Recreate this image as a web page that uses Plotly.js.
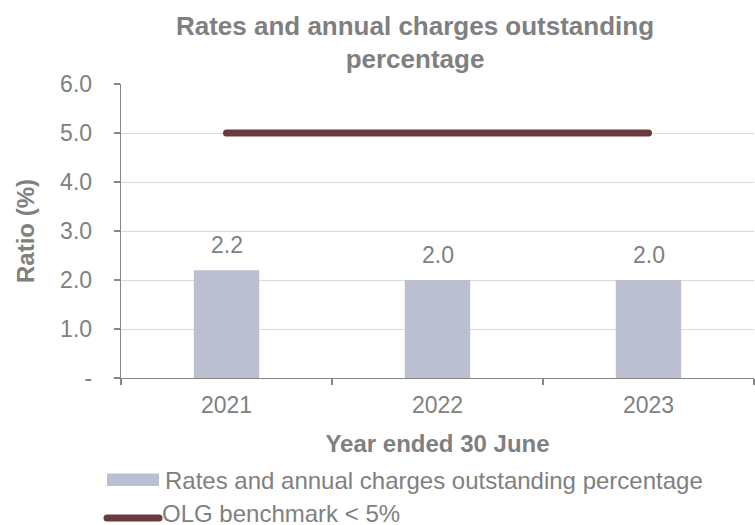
<!DOCTYPE html>
<html>
<head>
<meta charset="utf-8">
<script src="https://cdn.plot.ly/plotly-3.0.1.min.js"></script>
<style>html,body{margin:0;padding:0;background:#fff;}#chart{width:755px;height:525px;}</style>
</head>
<body>
<div id="chart"></div>
<script>
const years = ["2021", "2022", "2023"];
const outstanding = [2.2, 2.0, 2.0];
const benchmark = [5, 5, 5];
const seriesNames = ["Rates and annual charges outstanding percentage", "OLG benchmark < 5%"];
const yTickVals = [0, 1, 2, 3, 4, 5, 6];
const yTickText = ["-", "1.0", "2.0", "3.0", "4.0", "5.0", "6.0"];

const gray = "#808080";
const barColor = "#BBBFCF";
const lineColor = "#6A3B3E";
const axisColor = "#868686";
const font = "Liberation Sans, Arial, sans-serif";

const W = 755, H = 525, L = 121, R = 1, T = 84, B = 147;
const pw = W - L - R, ph = H - T - B;
const px = x => (x - L) / pw;
const py = y => (H - B - y) / ph;

const traces = [
  {type: "bar", x: years, y: outstanding, name: seriesNames[0],
   marker: {color: barColor}, hoverinfo: "x+y", showlegend: false},
  {type: "scatter", mode: "lines", x: years, y: benchmark, name: seriesNames[1],
   line: {color: lineColor, width: 7}, showlegend: false}
];

const annotations = years.map((yr, i) => ({
  x: i, y: outstanding[i], xref: "x", yref: "y", text: outstanding[i].toFixed(1),
  showarrow: false, yanchor: "middle", yshift: 25,
  font: {family: font, size: 23, color: gray}
}));
annotations.push(
  {xref: "paper", yref: "paper", x: px(163), y: py(480), xanchor: "left", yanchor: "middle",
   text: seriesNames[0], showarrow: false, font: {family: font, size: 24, color: gray}},
  {xref: "paper", yref: "paper", x: px(161), y: py(513), xanchor: "left", yanchor: "middle",
   text: seriesNames[1], showarrow: false, font: {family: font, size: 24, color: gray}, borderpad: 0}
);

const shapes = [
  {type: "rect", xref: "paper", yref: "paper", x0: px(107), x1: px(159), y0: py(473.5), y1: py(486),
   fillcolor: barColor, line: {width: 0}},
  {type: "line", xref: "paper", yref: "paper", x0: px(107), x1: px(159), y0: py(518), y1: py(518),
   line: {color: lineColor, width: 7}}
];

const layout = {
  width: W, height: H,
  margin: {l: L, r: R, t: T, b: B},
  paper_bgcolor: "#fff", plot_bgcolor: "#fff",
  font: {family: font, color: gray, size: 23},
  title: {text: "Rates and annual charges outstanding<br>percentage",
          x: 415 / W, xanchor: "center", y: 1 - 34.5 / H, yanchor: "middle",
          font: {family: font, size: 26, color: gray, weight: "bold"}},
  bargap: 0.69,
  xaxis: {type: "category", range: [-0.5, 2.5], tickson: "boundaries", ticks: "outside", ticklen: 6,
          tickcolor: axisColor, tickwidth: 1.3, showline: true, linecolor: axisColor, linewidth: 1.3,
          showgrid: false, tickfont: {family: font, size: 23, color: gray}, ticklabelstandoff: 6,
          title: {text: "Year ended 30 June", font: {family: font, size: 24, color: gray, weight: "bold"}, standoff: 18}},
  yaxis: {range: [0, 6], tickvals: yTickVals, ticktext: yTickText, ticks: "outside", ticklen: 6,
          tickcolor: axisColor, tickwidth: 1.3, showline: true, linecolor: axisColor, linewidth: 1.3,
          showgrid: true, gridcolor: "#D9D9D9", gridwidth: 1, zeroline: false,
          tickfont: {family: font, size: 23, color: gray}, ticklabelstandoff: 17,
          title: {text: "Ratio (%)", font: {family: font, size: 24, color: gray, weight: "bold"}, standoff: 18}},
  annotations: annotations,
  shapes: shapes
};

Plotly.newPlot("chart", traces, layout, {displayModeBar: false, staticPlot: true}).then(() => {
  document.querySelectorAll("#chart .js-line").forEach(p => p.style.strokeLinecap = "round");
  document.querySelectorAll("#chart .shapelayer path").forEach(p => p.style.strokeLinecap = "round");
});
</script>
</body>
</html>
